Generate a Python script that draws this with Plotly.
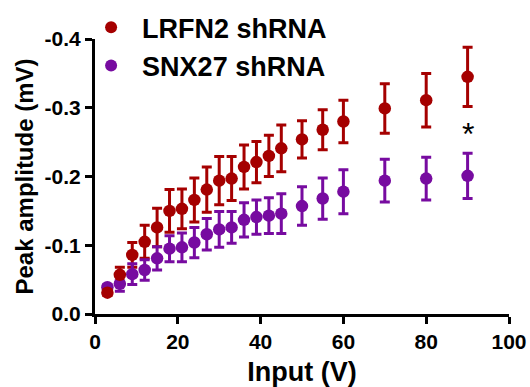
import plotly.graph_objects as go

input_v = [3, 6, 9, 12, 15, 18, 21, 24, 27, 30, 33, 36, 39, 42, 45, 50, 55, 60, 70, 80, 90]
lrfn2_mean = [-0.031, -0.057, -0.086, -0.105, -0.126, -0.150, -0.153, -0.166, -0.181, -0.194, -0.197,
              -0.214, -0.221, -0.230, -0.241, -0.254, -0.268, -0.280, -0.299, -0.311, -0.345]
lrfn2_sem = [0.004, 0.011, 0.018, 0.024, 0.028, 0.031, 0.029, 0.032, 0.033, 0.035, 0.032,
             0.032, 0.030, 0.030, 0.034, 0.027, 0.029, 0.031, 0.036, 0.039, 0.043]
snx27_mean = [-0.039, -0.044, -0.058, -0.064, -0.081, -0.095, -0.097, -0.104, -0.116, -0.123, -0.126,
              -0.137, -0.141, -0.143, -0.146, -0.157, -0.168, -0.178, -0.194, -0.197, -0.201]
snx27_sem = [0.004, 0.011, 0.015, 0.015, 0.017, 0.019, 0.021, 0.022, 0.023, 0.026, 0.023,
             0.025, 0.025, 0.026, 0.029, 0.028, 0.030, 0.032, 0.031, 0.031, 0.033]
series_names = ["LRFN2 shRNA", "SNX27 shRNA"]
x_ticks = [0, 20, 40, 60, 80, 100]
y_ticks = [0.0, -0.1, -0.2, -0.3, -0.4]
y_tick_labels = ["0.0", "-0.1", "-0.2", "-0.3", "-0.4"]
sig_x = 90
sig_label = "*"

RED = "#A50000"
PURPLE = "#770BA0"
FONT = "Liberation Sans, Arial, sans-serif"

fig = go.Figure()

def err_trace(y, e, color):
    return go.Scatter(x=input_v, y=y, mode="markers", showlegend=False, hoverinfo="skip",
                      marker=dict(size=1, color="rgba(0,0,0,0)"),
                      error_y=dict(type="data", array=e, visible=True, color=color,
                                   thickness=3, width=5),
                      cliponaxis=False)

fig.add_trace(err_trace(lrfn2_mean, lrfn2_sem, RED))
fig.add_trace(err_trace(snx27_mean, snx27_sem, PURPLE))
fig.add_trace(go.Scatter(x=input_v, y=snx27_mean, mode="markers", name=series_names[1],
                         legendrank=2, marker=dict(size=12.5, color=PURPLE), cliponaxis=False))
fig.add_trace(go.Scatter(x=input_v, y=lrfn2_mean, mode="markers", name=series_names[0],
                         legendrank=1, marker=dict(size=12.5, color=RED), cliponaxis=False))

fig.add_annotation(x=sig_x, y=-0.262, text=sig_label, showarrow=False,
                   font=dict(family=FONT, size=32, color="black"), yanchor="middle")

fig.update_layout(
    width=530, height=387,
    margin=dict(l=95, r=21, t=39, b=73, autoexpand=False),
    paper_bgcolor="white", plot_bgcolor="white",
    font=dict(family=FONT, color="black"),
    legend=dict(x=-0.036, y=1.13, xanchor="left", yanchor="top", itemwidth=52,
                font=dict(family=FONT, size=27, color="black", weight="bold"),
                bgcolor="rgba(0,0,0,0)", tracegroupgap=0, itemsizing="constant"),
    xaxis=dict(range=[0, 100], tickvals=x_ticks, showgrid=False, zeroline=False,
               showline=True, linecolor="black", linewidth=3,
               ticks="outside", ticklen=7, tickwidth=3, tickcolor="black",
               tickfont=dict(family=FONT, size=21, weight="bold"),
               title=dict(text="<b>Input (V)</b>", font=dict(family=FONT, size=27), standoff=10)),
    yaxis=dict(range=[0, -0.4], tickvals=y_ticks, ticktext=y_tick_labels, showgrid=False,
               zeroline=False, showline=True, linecolor="black", linewidth=3,
               ticks="outside", ticklen=7, tickwidth=3, tickcolor="black",
               tickfont=dict(family=FONT, size=21, weight="bold"),
               title=dict(text="<b>Peak amplitude (mV)</b>", font=dict(family=FONT, size=24), standoff=5)),
)

fig.write_html("out.html")
